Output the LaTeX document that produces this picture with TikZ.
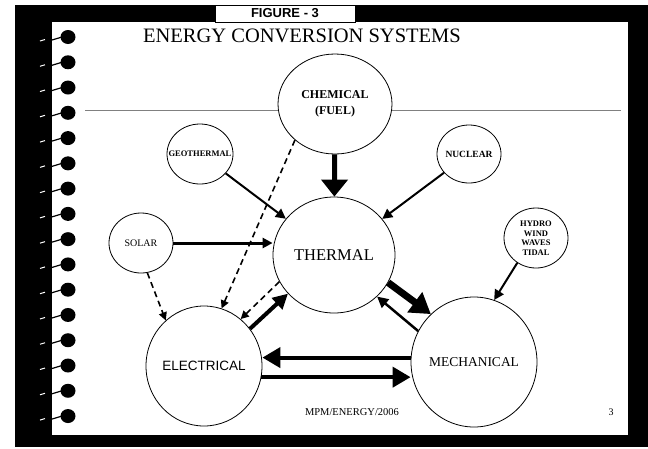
\documentclass[tikz,border=0pt]{standalone}
\usepackage{fontspec}
\setmainfont{Liberation Serif}
\setsansfont{Liberation Sans}
\usetikzlibrary{shapes.geometric,arrows.meta}

\begin{document}
\begin{tikzpicture}[x=1pt, y=-1pt,
    blob/.style={draw, ellipse, inner sep=0pt, line width=0.8pt},
    feed/.style={line width=2pt, -{Triangle[length=10pt,width=10pt]}},
    heavy/.style={line width=5pt, -{Triangle[length=17pt,width=26pt]}},
    loss/.style={line width=1.6pt, dash pattern=on 6pt off 4pt, -{Triangle[length=8pt,width=8pt]}},
    swap/.style={line width=4pt, -{Triangle[length=18pt,width=20pt]}}]
  \useasboundingbox (0,0) rectangle (648,448);
  % slide frame and binding
  \fill (15,5) rectangle (648,447);
  \fill[white] (52,22) rectangle (628,435);
  \foreach \i in {0,...,15} {
    \fill (68,37+25.27*\i) ellipse [x radius=7.5, y radius=7];
    \draw[line width=1.2pt] (52,40+25.27*\i) -- (62,37+25.27*\i);
    \draw[white, line width=1pt] (40,41+25.27*\i) -- (45,39.5+25.27*\i);
  }
  \node [draw, fill=white, line width=0.6pt, minimum width=140pt, minimum height=17pt, inner sep=0pt,
         font=\sffamily\bfseries\fontsize{13}{15}\selectfont] (fig) at (285,13.5) {FIGURE - 3};
  \node [font=\fontsize{20.5}{24}\selectfont] (title) at (302,36) {ENERGY CONVERSION SYSTEMS};

  \draw (335,104) node [blob, minimum width=114pt, minimum height=100pt,
            label={[font=\bfseries\fontsize{12}{16}\selectfont, align=center]center:{CHEMICAL\\(FUEL)}}] (chem) {}
        (200,154) node [blob, minimum width=66pt, minimum height=60pt,
            label={[font=\bfseries\fontsize{8.5}{10}\selectfont]center:GEOTHERMAL}] (geo) {}
        (469,154) node [blob, minimum width=64pt, minimum height=58pt,
            label={[font=\bfseries\fontsize{9.5}{11}\selectfont]center:NUCLEAR}] (nuc) {}
        (141,243) node [blob, minimum width=64pt, minimum height=60pt,
            label={[font=\fontsize{10}{12}\selectfont]center:SOLAR}] (solar) {}
        (334,255) node [blob, minimum width=122pt, minimum height=116pt,
            label={[font=\fontsize{16.5}{18}\selectfont]center:THERMAL}] (thermal) {}
        (536,238) node [blob, minimum width=64pt, minimum height=60pt,
            label={[font=\bfseries\fontsize{8.5}{9.5}\selectfont, align=center]center:{HYDRO\\WIND\\WAVES\\TIDAL}}] (hydro) {}
        (204,366) node [blob, minimum width=116pt, minimum height=120pt,
            label={[font=\sffamily\fontsize{13.5}{15}\selectfont]center:ELECTRICAL}] (elec) {}
        (474,362) node [blob, minimum width=126pt, minimum height=130pt,
            label={[font=\fontsize{13.5}{15}\selectfont]center:MECHANICAL}] (mech) {};

  \coordinate (ruleL) at (85,110);
  \coordinate (ruleR) at (621,110);
  \draw [gray, line width=0.7pt] (ruleL) -- (ruleL -| chem.west)
                                 (ruleR -| chem.east) -- (ruleR);

  \draw (chem) edge [heavy] (thermal)
        (geo) edge [feed] (thermal)
        (nuc) edge [feed] (thermal)
        (hydro.233) edge [feed] (mech.72)
        (solar.-78) edge [loss] (elec.130)
        (chem.222) edge [loss] (elec.73)
        (thermal.206) edge [loss] (elec.52)
        (elec.39) edge [line width=4pt, -{Triangle[length=15pt,width=15pt]}] (thermal.220)
        (thermal.-27) edge [line width=7pt, -{Triangle[length=20pt,width=24pt]}] (mech.132)
        (mech.151) edge [line width=2.5pt, -{Triangle[length=11pt,width=11pt]}] (thermal.-44);
  \draw [line width=3pt, -{Triangle[length=10pt,width=10pt]}] (solar) -- (solar -| thermal.west);
  \draw [swap] (mech.176) -- (mech.176 -| elec.east);
  \draw [swap] (elec.-11) -- (elec.-11 -| mech.west);

  \node [font=\fontsize{10.5}{12}\selectfont] (foot) at (352,412) {MPM/ENERGY/2006};
  \node [font=\fontsize{10}{12}\selectfont] (page) at (611,412) {3};
\end{tikzpicture}
\end{document}
